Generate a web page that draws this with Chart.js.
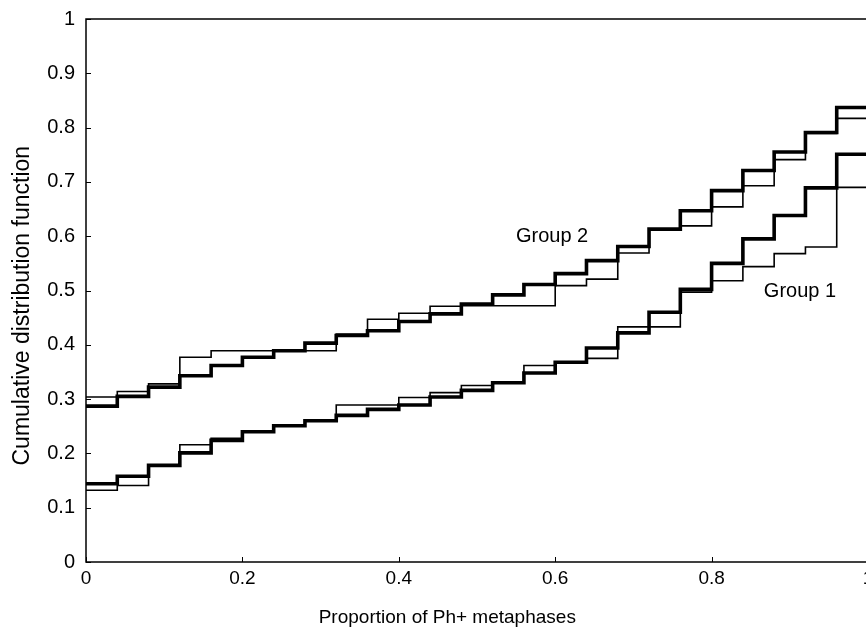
<!DOCTYPE html>
<html>
<head>
<meta charset="utf-8">
<title>Cumulative distribution function</title>
<script src="https://cdn.jsdelivr.net/npm/chart.js@4.4.1/dist/chart.umd.min.js"></script>
<style>
  html, body { margin: 0; padding: 0; background: #fff; overflow: hidden; }
  /* the plot runs slightly past the right and top edges of the window, as in the scan */
  #cdf { display: block; margin-top: -4px; }
</style>
</head>
<body>
<canvas id="cdf" width="900" height="637"></canvas>
<script>
/* ======================================================
   Data (one step every 0.04)
====================================================== */

const stepEdges = [0, 0.04, 0.08, 0.12, 0.16, 0.2, 0.24, 0.28, 0.32, 0.36, 0.4, 0.44, 0.48,
  0.52, 0.56, 0.6, 0.64, 0.68, 0.72, 0.76, 0.8, 0.84, 0.88, 0.92, 0.96, 1];

const group2Thick = [0.287, 0.305, 0.322, 0.343, 0.362, 0.377, 0.389, 0.403, 0.417, 0.426, 0.443, 0.457, 0.475,
  0.492, 0.511, 0.531, 0.555, 0.581, 0.613, 0.647, 0.684, 0.721, 0.755, 0.791, 0.837];
const group2Thin = [0.304, 0.314, 0.328, 0.377, 0.389, 0.389, 0.389, 0.389, 0.420, 0.447, 0.458, 0.471, 0.472,
  0.472, 0.472, 0.509, 0.521, 0.569, 0.612, 0.619, 0.654, 0.693, 0.741, 0.789, 0.817];

const group1Thick = [0.144, 0.158, 0.178, 0.201, 0.224, 0.240, 0.251, 0.260, 0.270, 0.281, 0.289, 0.304, 0.316,
  0.330, 0.348, 0.368, 0.394, 0.422, 0.460, 0.502, 0.550, 0.595, 0.638, 0.689, 0.751];
const group1Thin = [0.132, 0.141, 0.178, 0.216, 0.228, 0.240, 0.251, 0.260, 0.289, 0.289, 0.303, 0.312, 0.325,
  0.330, 0.362, 0.368, 0.375, 0.433, 0.433, 0.497, 0.518, 0.544, 0.568, 0.580, 0.690];

const xTickLabels = ['0', '0.2', '0.4', '0.6', '0.8', '1'];
const yTickLabels = ['0', '0.1', '0.2', '0.3', '0.4', '0.5', '0.6', '0.7', '0.8', '0.9', '1'];

const groupNames = ['Group 2', 'Group 1'];
const xTitle = 'Proportion of Ph+ metaphases';
const yTitle = 'Cumulative distribution function';


/* ======================================================
   Helpers
====================================================== */

const FONT = '"Liberation Sans", Arial, Helvetica, sans-serif';

// each value holds from its edge up to the next edge; the last edge repeats the last value
const toSteps = values =>
  stepEdges.map((x, i) => ({ x, y: values[Math.min(i, values.length - 1)] }));

const stepLine = (label, values, width) => ({
  label,
  data: toSteps(values),
  stepped: 'before',
  borderColor: '#000',
  borderWidth: width,
  pointRadius: 0,
  fill: false
});


/* ======================================================
   Frame, inner ticks, axis titles and group labels
====================================================== */

const framePlugin = {
  id: 'frame',
  afterDraw(chart) {
    const { ctx, chartArea: a, scales: { x, y } } = chart;
    ctx.save();
    ctx.strokeStyle = '#000';
    ctx.lineWidth = 1.5;
    ctx.strokeRect(a.left, a.top, a.right - a.left, a.bottom - a.top);

    ctx.lineWidth = 1;
    ctx.beginPath();
    y.ticks.forEach(t => {
      const py = Math.round(y.getPixelForValue(t.value)) + 0.5;
      ctx.moveTo(a.left, py);
      ctx.lineTo(a.left + 5, py);
    });
    x.ticks.forEach(t => {
      const px = Math.round(x.getPixelForValue(t.value)) + 0.5;
      ctx.moveTo(px, a.bottom);
      ctx.lineTo(px, a.bottom - 5);
    });
    ctx.stroke();

    ctx.fillStyle = '#000';
    ctx.textAlign = 'center';
    ctx.textBaseline = 'middle';

    // axis titles sit a little off-centre in the original
    ctx.font = '19px ' + FONT;
    ctx.fillText(xTitle, x.getPixelForValue(0.462), a.bottom + 56);

    ctx.save();
    ctx.translate(a.left - 63, y.getPixelForValue(0.472));
    ctx.rotate(-Math.PI / 2);
    ctx.font = '23px ' + FONT;
    ctx.fillText(yTitle, 0, 0);
    ctx.restore();

    ctx.font = '20px ' + FONT;
    ctx.fillText(groupNames[0], x.getPixelForValue(0.596), y.getPixelForValue(0.599));
    ctx.fillText(groupNames[1], x.getPixelForValue(0.913), y.getPixelForValue(0.498));
    ctx.restore();
  }
};


/* ======================================================
   Chart
====================================================== */

Chart.defaults.font.family = FONT;
Chart.defaults.color = '#000';

new Chart(document.getElementById('cdf'), {
  type: 'line',
  data: {
    datasets: [
      stepLine('Group 2 (a)', group2Thin, 1.6),
      stepLine('Group 2 (b)', group2Thick, 3.6),
      stepLine('Group 1 (a)', group1Thin, 1.6),
      stepLine('Group 1 (b)', group1Thick, 3.6)
    ]
  },
  options: {
    responsive: false,
    animation: false,
    layout: { padding: { top: 14, right: 32, left: 0, bottom: 0 } },
    plugins: {
      legend: { display: false },
      tooltip: { enabled: false }
    },
    scales: {
      x: {
        type: 'linear',
        min: 0,
        max: 1,
        afterFit: scale => { scale.height = 71; },
        grid: { display: false, drawTicks: false },
        border: { display: false },
        ticks: {
          stepSize: 0.2,
          padding: 5,
          maxRotation: 0,
          autoSkip: false,
          font: { size: 19 },
          callback: (v, i) => xTickLabels[i]
        }
      },
      y: {
        type: 'linear',
        min: 0,
        max: 1,
        afterFit: scale => { scale.width = 86; },
        grid: { display: false, drawTicks: false },
        border: { display: false },
        ticks: {
          stepSize: 0.1,
          padding: 11,
          autoSkip: false,
          font: { size: 20 },
          callback: (v, i) => yTickLabels[i]
        }
      }
    }
  },
  plugins: [framePlugin]
});
</script>
</body>
</html>
